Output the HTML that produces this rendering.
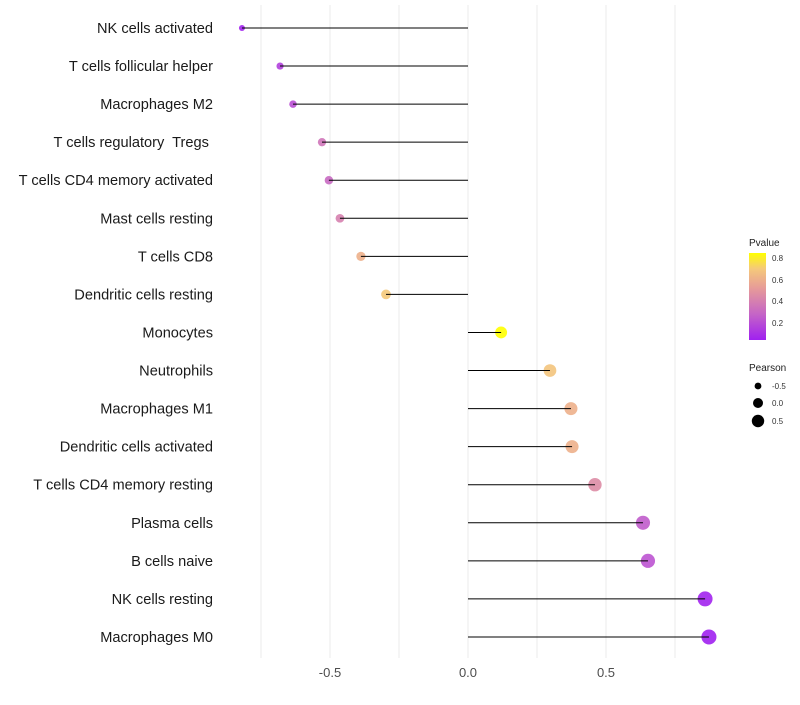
<!DOCTYPE html>
<html><head><meta charset="utf-8"><style>
body{margin:0;background:#fff;}
svg text{font-family:"Liberation Sans",sans-serif;white-space:pre;}
</style></head><body>
<svg id="chart" width="800" height="700">
<defs><linearGradient id="pg" x1="0" y1="1" x2="0" y2="0">
<stop offset="0" stop-color="#a020f0"/><stop offset="0.3" stop-color="#c565c6"/><stop offset="0.6" stop-color="#e79c98"/><stop offset="0.82" stop-color="#f5c97a"/><stop offset="1" stop-color="#ffff00"/>
</linearGradient></defs>
<g id="grid"></g><g id="marks"></g><g id="labels"></g>
<g>
<text x="749" y="246" font-size="10" fill="#222">Pvalue</text>
<rect x="749" y="253" width="17" height="87" fill="url(#pg)"/>
<text x="772" y="261" font-size="8" fill="#333">0.8</text>
<text x="772" y="283" font-size="8" fill="#333">0.6</text>
<text x="772" y="304" font-size="8" fill="#333">0.4</text>
<text x="772" y="326" font-size="8" fill="#333">0.2</text>
<text x="749" y="371" font-size="10" fill="#222">Pearson</text>
<circle cx="758" cy="386" r="3.4" fill="#000"/><text x="772" y="389" font-size="8" fill="#333">-0.5</text>
<circle cx="758" cy="403" r="5" fill="#000"/><text x="772" y="406" font-size="8" fill="#333">0.0</text>
<circle cx="758" cy="421" r="6.2" fill="#000"/><text x="772" y="424" font-size="8" fill="#333">0.5</text>
</g>
</svg>
<script>
const cells=["NK cells activated","T cells follicular helper","Macrophages M2","T cells regulatory  Tregs ","T cells CD4 memory activated","Mast cells resting","T cells CD8","Dendritic cells resting","Monocytes","Neutrophils","Macrophages M1","Dendritic cells activated","T cells CD4 memory resting","Plasma cells","B cells naive","NK cells resting","Macrophages M0"];
const pearson=[-0.819,-0.681,-0.634,-0.529,-0.504,-0.464,-0.388,-0.297,0.120,0.297,0.373,0.377,0.460,0.634,0.652,0.859,0.873];
const pvalue=[0.05,0.15,0.2,0.35,0.3,0.4,0.6,0.7,0.85,0.68,0.6,0.6,0.45,0.25,0.22,0.05,0.04];
const xTicks=[-0.5,0.0,0.5];
const xTickLabels=["-0.5","0.0","0.5"];
const gridMinor=[-0.75,-0.25,0.25,0.75];
const NS="http://www.w3.org/2000/svg";
const x=v=>468+v*276;
const y=i=>28+i*38.06;
const r=v=>Math.sqrt(Math.max(2.25,32+28*v));
const stops=[[0.04,[160,32,240]],[0.28,[197,101,198]],[0.52,[231,156,152]],[0.7,[245,201,122]],[0.85,[255,255,0]]];
function col(p){if(p<=stops[0][0])return`rgb(${stops[0][1]})`;for(let k=1;k<stops.length;k++){if(p<=stops[k][0]){const a=stops[k-1],b=stops[k],t=(p-a[0])/(b[0]-a[0]);return`rgb(${a[1].map((c,j)=>Math.round(c+(b[1][j]-c)*t))})`;}}return`rgb(${stops[stops.length-1][1]})`;}
function mk(t,at,parent){const e=document.createElementNS(NS,t);for(const k in at)e.setAttribute(k,at[k]);parent.appendChild(e);return e;}
const G=document.getElementById('grid'),M=document.getElementById('marks'),L=document.getElementById('labels');
gridMinor.concat(xTicks).forEach(v=>{const e=mk('line',{x1:x(v),x2:x(v),y1:5,y2:658,stroke:'#ebebeb','stroke-width':1},G);

});
xTicks.forEach((v,i)=>{const t=mk('text',{x:x(v),y:677,'font-size':13,fill:'#4d4d4d','text-anchor':'middle'},L);t.textContent=xTickLabels[i];

});
cells.forEach((c,i)=>{
const t=mk('text',{x:213,y:y(i)+5,'font-size':14.6,fill:'#1a1a1a','text-anchor':'end'},L);t.textContent=c;


const ci=mk('circle',{cx:x(pearson[i]),cy:y(i),r:r(pearson[i]),fill:col(pvalue[i]),'fill-opacity':0.9},M);


const ln=mk('line',{x1:x(0),x2:x(pearson[i]),y1:y(i),y2:y(i),stroke:'#000','stroke-width':1},M);


});
</script>
</body></html>
